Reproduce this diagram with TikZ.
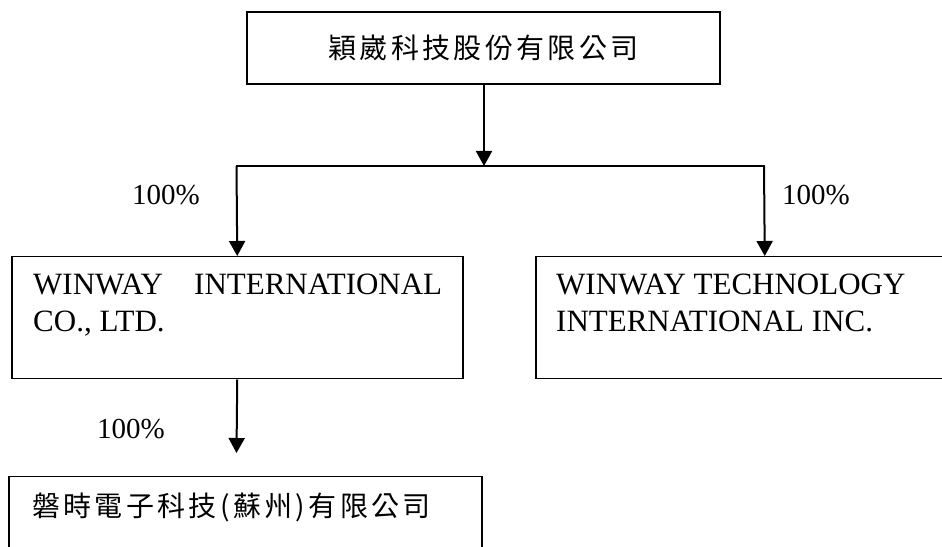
\documentclass[tikz,border=0pt]{standalone}
\usepackage{fontspec}
\setmainfont{Liberation Serif}
\newfontfamily\cjk[LetterSpace=12]{Noto Sans CJK TC}
\usetikzlibrary{arrows.meta}
\tikzset{
  box/.style={draw, line width=1.5pt, inner sep=0pt},
  txt/.style={inner sep=0pt, font=\fontsize{31}{37}\selectfont, align=left},
  pct/.style={inner sep=0pt, font=\fontsize{29}{34}\selectfont},
  link/.style={line width=2pt, -{Triangle[width=16pt,length=15pt]}},
}
\begin{document}
\begin{tikzpicture}[x=1pt,y=1pt]
\useasboundingbox (0,0) rectangle (942,546);

\node[box, minimum width=473pt, minimum height=72pt,
  font=\cjk\fontsize{28}{30}\selectfont] (parent) at (483.5,498) {穎崴科技股份有限公司};

\node[box, minimum width=451pt, minimum height=122pt, anchor=north west] (intl) at (11,290) {};
\node[txt, anchor=base west] (intltxt) at (33,214)
  {\makebox[409pt][s]{WINWAY INTERNATIONAL}\\CO., LTD.};

\node[box, minimum width=458pt, minimum height=122pt, anchor=north west] (tech) at (535,290) {};
\node[txt, anchor=base west] (techtxt) at (556,214)
  {WINWAY TECHNOLOGY\\INTERNATIONAL INC.};

\node[box, minimum width=473pt, minimum height=84pt, anchor=north west] (sub) at (8,70) {};
\node[inner sep=0pt, anchor=west, font=\cjk\fontsize{28}{30}\selectfont] (subtxt) at (32,39)
  {磐時電子科技(蘇州)有限公司};

\coordinate (split) at (484,380);
\coordinate (splitL) at (236.5,380);
\coordinate (splitR) at (764,380);
\coordinate (subtip) at (236.5,93);

\draw[link] (parent.south -| split) -- (split);
\draw[line width=2pt, line cap=rect] (splitL) -- (splitR);
\draw[link] (splitL) -- (intl.north);
\draw[link] (splitR) -- (tech.north);
\draw[link] (intl.south) -- (subtip);

\node[pct, anchor=base west] (pctL) at (132,341) {100\%};
\node[pct, anchor=base west] (pctR) at (782,341) {100\%};
\node[pct, anchor=base west] (pctB) at (97,107) {100\%};
\end{tikzpicture}
\end{document}
